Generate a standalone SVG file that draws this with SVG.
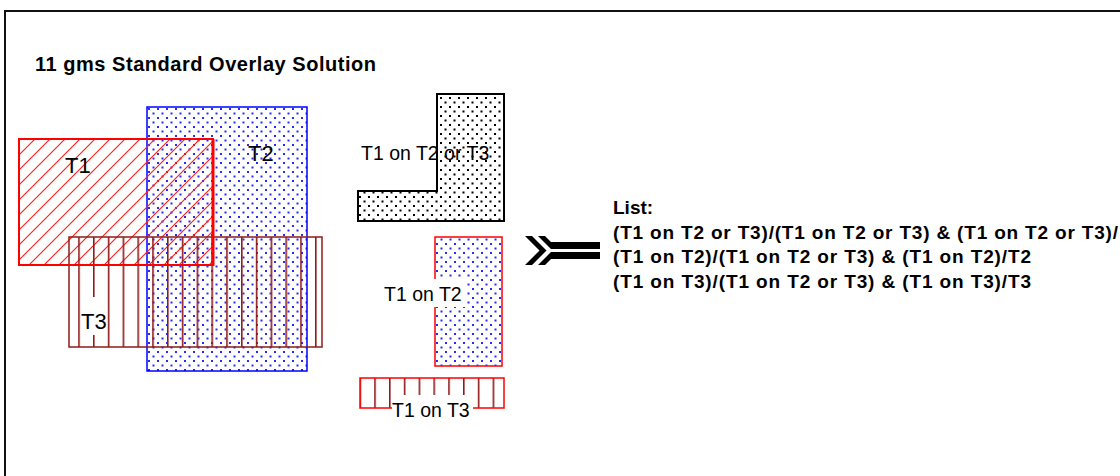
<svg xmlns="http://www.w3.org/2000/svg" width="1120" height="476" viewBox="0 0 1120 476">
<style>
.lbl{font-family:"Liberation Sans",Arial,sans-serif;font-size:19.5px;fill:#000}
.big{font-family:"Liberation Sans",Arial,sans-serif;font-size:22px;fill:#000}
.bold{font-family:"Liberation Sans",Arial,sans-serif;font-size:19px;font-weight:bold;fill:#000}
.bg{fill:#fff}
</style>
<defs>
<pattern id="blueDots" patternUnits="userSpaceOnUse" width="9" height="9" x="148" y="108">
<rect x="0" y="0" width="2" height="2" fill="#2a2aff"/>
<rect x="4.5" y="4.5" width="2" height="2" fill="#2a2aff"/>
</pattern>
<pattern id="blackDots" patternUnits="userSpaceOnUse" width="9" height="9" x="440" y="97">
<rect x="0" y="0" width="2" height="2" fill="#000"/>
<rect x="4.5" y="4.5" width="2" height="2" fill="#000"/>
</pattern>
<pattern id="redHatch" patternUnits="userSpaceOnUse" width="15" height="15" x="9" y="0">
<path d="M0,15 L15,0 M-1,1 L1,-1 M14,16 L16,14" stroke="#ff1a1a" stroke-width="1.1"/>
</pattern>
<pattern id="vLines" patternUnits="userSpaceOnUse" width="14.8" height="20" x="78.2" y="0">
<rect x="0" y="0" width="1.6" height="20" fill="#8e1b1b"/>
</pattern>
</defs>
<g id="frame">
<path d="M5,476 V11 H1120" fill="none" stroke="#111" stroke-width="2"/>
</g>
<g id="title">
<text class="bold" x="35" y="71" style="font-size:20px" textLength="341" lengthAdjust="spacing">11 gms Standard Overlay Solution</text>
</g>
<g id="T2">
<rect x="147" y="107" width="160" height="264" fill="url(#blueDots)" stroke="#0000ff" stroke-width="1.5"/>
<text class="big" x="248" y="161">T2</text>
</g>
<g id="T1">
<rect x="19" y="139" width="194" height="126" fill="url(#redHatch)"/>
<text class="big" x="65" y="173">T1</text>
</g>
<g id="T3">
<rect x="69" y="237" width="253" height="110" fill="url(#vLines)" stroke="#8e1b1b" stroke-width="1.5"/>
<rect class="bg" x="81" y="297" width="26" height="38"/>
<text class="big" x="81" y="329">T3</text>
</g>
<g id="T1-border">
<rect x="19" y="139" width="194" height="126" fill="none" stroke="#ff0000" stroke-width="2"/>
<line x1="213" y1="139" x2="213" y2="266" stroke="#ff0000" stroke-width="3"/>
</g>
<g id="T1onT2orT3">
<polygon points="437,94 504,94 504,221 358,221 358,191 437,191" fill="url(#blackDots)" stroke="#000" stroke-width="2"/>
<text class="lbl" x="361" y="160">T1 on T2 or T3</text>
</g>
<g id="T1onT2">
<rect x="435" y="237" width="67" height="129" fill="url(#blueDots)" stroke="#ff0000" stroke-width="1.5"/>
<rect class="bg" x="383" y="279" width="82" height="28"/>
<text class="lbl" x="384" y="301">T1 on T2</text>
</g>
<g id="T1onT3">
<rect x="360" y="378" width="144" height="30" fill="url(#vLines)" stroke="#ff0000" stroke-width="1.5"/>
<rect class="bg" x="392" y="395" width="81" height="25"/>
<text class="lbl" x="392" y="417">T1 on T3</text>
</g>
<g id="connectors">
<polygon points="525,236 532,236 546.5,250.5 532,265 525,265 539.5,250.5" fill="#000"/>
<polygon points="538,236 545,236 551,242 600,242 600,249 551,249" fill="#000"/>
<polygon points="538,265 545,265 551,259 600,259 600,252 551,252" fill="#000"/>
</g>
<g id="list">
<text class="bold" x="613" y="214">List:</text>
<text class="bold" x="613" y="239" textLength="505" lengthAdjust="spacing">(T1 on T2 or T3)/(T1 on T2 or T3) &amp; (T1 on T2 or T3)/</text>
<text class="bold" x="613" y="263" textLength="418" lengthAdjust="spacing">(T1 on T2)/(T1 on T2 or T3) &amp; (T1 on T2)/T2</text>
<text class="bold" x="613" y="288" textLength="418" lengthAdjust="spacing">(T1 on T3)/(T1 on T2 or T3) &amp; (T1 on T3)/T3</text>
</g>
</svg>
